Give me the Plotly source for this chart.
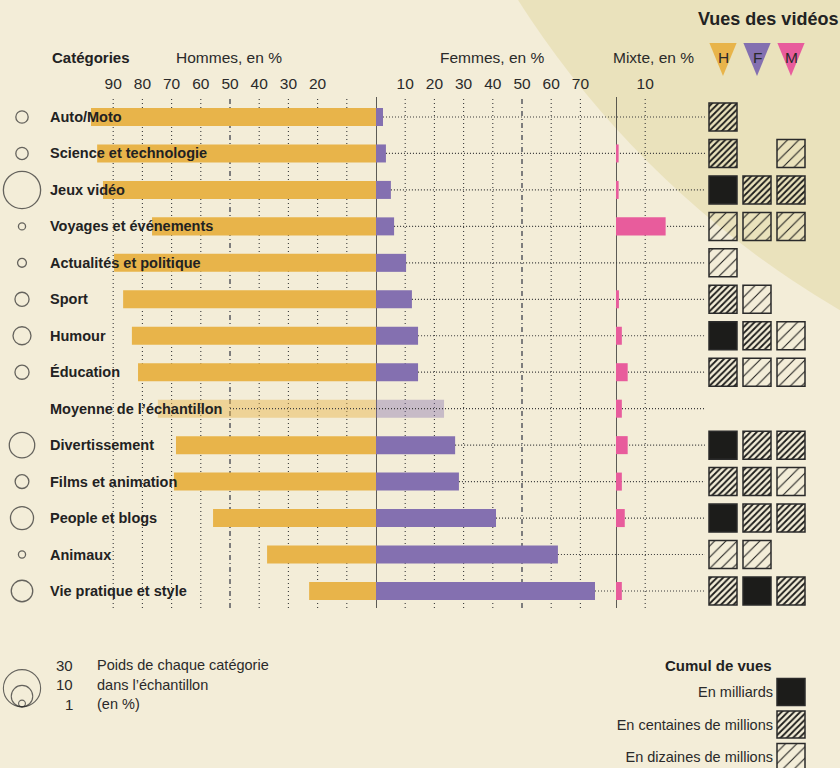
import plotly.graph_objects as go

# ---------------- data ----------------
categories = ["Auto/Moto", "Science et technologie", "Jeux vidéo", "Voyages et événements",
              "Actualités et politique", "Sport", "Humour", "Éducation",
              "Moyenne de l’échantillon", "Divertissement", "Films et animation",
              "People et blogs", "Animaux", "Vie pratique et style"]
hommes = [97.6, 95.5, 93.5, 76.7, 89.7, 86.6, 83.6, 81.5, 74.7, 68.5, 69.2, 55.8, 37.3, 22.9]
femmes = [2.4, 3.4, 5.1, 6.2, 10.3, 12.3, 14.4, 14.4, 23.3, 27.1, 28.4, 41.1, 62.3, 75.0]
mixte = [0, 0.9, 0.9, 17.0, 0, 1.0, 2.0, 4.0, 2.0, 4.0, 2.0, 3.0, 0, 2.0]
poids = [3.3, 3.3, 30, 1.1, 1.7, 4.3, 7.0, 4.3, None, 14.0, 4.1, 11.5, 1.1, 10.0]
# B = milliards, C = centaines de millions, D = dizaines de millions
vues_h = ["C", "C", "B", "D", "D", "C", "B", "C", None, "B", "C", "B", "D", "C"]
vues_f = [None, None, "C", "D", None, "D", "C", "D", None, "C", "C", "C", "D", "B"]
vues_m = [None, "D", "C", "D", None, None, "D", "D", None, "C", "D", "C", None, "C"]
moyenne = "Moyenne de l’échantillon"

ticks_hommes = [90, 80, 70, 60, 50, 40, 30, 20, 10]
labels_hommes = [90, 80, 70, 60, 50, 40, 30, 20]
ticks_femmes = [10, 20, 30, 40, 50, 60, 70]
ticks_mixte = [10]
poids_legende = [30, 10, 1]
cumul_codes = ["B", "C", "D"]
cumul_labels = ["En milliards", "En centaines de millions", "En dizaines de millions"]
colonnes = ["H", "F", "M"]

# ---------------- style ----------------
W, H = 840, 768
K = 2.92                      # px per percent
BG = "#F3EDD8"
BEIGE = "#EAE2BC"
GOLD = "#E8B44A"
PURPLE = "#8470B0"
PINK = "#E85C9C"
INK = "#222222"
FONT = "Liberation Sans, Arial, sans-serif"
X0 = 376        # zero of hommes/femmes
XM = 616        # zero of mixte
XEND = 705      # end of leader lines
ROW0, ROWSTEP = 117, 36.46
YTOP, YBOT = 97, 608

def px(p):
    return p / W

def py(p):
    return 1 - p / H

fig = go.Figure()

# hommes bars
col_h = ["rgba(232,180,74,0.45)" if c == moyenne else GOLD for c in categories]
fig.add_trace(go.Bar(x=hommes, y=categories, orientation="h", xaxis="x", yaxis="y",
                     width=0.494, marker=dict(color=col_h, line_width=0), hoverinfo="skip"))
# leader line of average row on the hommes side
fig.add_trace(go.Scatter(x=[50, 0], y=[moyenne, moyenne], xaxis="x", yaxis="y", mode="lines",
                         line=dict(color="#444", width=1.2, dash="1px,2px"), hoverinfo="skip"))
# femmes bars
col_f = ["rgba(132,112,176,0.4)" if c == moyenne else PURPLE for c in categories]
fig.add_trace(go.Bar(x=femmes, y=categories, orientation="h", xaxis="x2", yaxis="y",
                     width=0.494, marker=dict(color=col_f, line_width=0), hoverinfo="skip"))
# leader lines
xmax2 = (XEND - X0) / K
lx, ly = [], []
for c, f in zip(categories, femmes):
    start = 0 if c == moyenne else f
    lx += [start, xmax2, None]
    ly += [c, c, None]
fig.add_trace(go.Scatter(x=lx, y=ly, xaxis="x2", yaxis="y", mode="lines",
                         line=dict(color="#3a3a3a", width=1.2, dash="1px,2px"), hoverinfo="skip"))
# mixte bars
fig.add_trace(go.Bar(x=mixte, y=categories, orientation="h", xaxis="x3", yaxis="y",
                     width=0.494, marker=dict(color=PINK, line_width=0), hoverinfo="skip"))

# weight circles
SIZEREF = 1 / 23.12
cx = [c for c, p in zip(categories, poids) if p is not None]
cs = [p for p in poids if p is not None]
fig.add_trace(go.Scatter(x=[0.5] * len(cx), y=cx, xaxis="x4", yaxis="y", mode="markers",
                         marker=dict(size=cs, sizemode="area", sizeref=SIZEREF,
                                     color="rgba(0,0,0,0)", line=dict(color="#2a2a2a", width=1.3)),
                         hoverinfo="skip", cliponaxis=False))

# view squares
SQ = 0.8235
pat_shape = {"B": "", "C": "/", "D": "/"}
pat_size = {"B": 8, "C": 4.4, "D": 8}
pat_sol = {"B": 0.3, "C": 0.42, "D": 0.13}
for j, vues in enumerate([vues_h, vues_f, vues_m]):
    ys = [c for c, v in zip(categories, vues) if v]
    codes = [v for v in vues if v]
    fig.add_trace(go.Bar(x=[SQ] * len(ys), base=[j - SQ / 2] * len(ys), y=ys, orientation="h",
                         xaxis="x5", yaxis="y", width=0.768,
                         marker=dict(color="#1c1c1a",
                                     line=dict(color="#2a2a2a", width=1.5),
                                     pattern=dict(shape=[pat_shape[c] for c in codes],
                                                  size=[pat_size[c] for c in codes],
                                                  solidity=[pat_sol[c] for c in codes],
                                                  fillmode="replace")),
                         hoverinfo="skip"))

# legend: weight circles (nested, bottom aligned)
BOTTOM = 707.5
lr = [(v / 2 / SIZEREF) ** 0.5 for v in poids_legende]
fig.add_trace(go.Scatter(x=[0.5] * 3, y=[BOTTOM - r - 0.6 for r in lr], xaxis="x6", yaxis="y6",
                         mode="markers",
                         marker=dict(size=poids_legende, sizemode="area", sizeref=SIZEREF,
                                     color="rgba(0,0,0,0)", line=dict(color="#2a2a2a", width=1.1)),
                         hoverinfo="skip", cliponaxis=False))
# legend: cumul squares
fig.add_trace(go.Bar(x=[SQ] * 3, base=[2 - SQ / 2] * 3, y=cumul_labels, orientation="h",
                     xaxis="x7", yaxis="y7", width=0.83,
                     marker=dict(color="#1c1c1a", line=dict(color="#2a2a2a", width=1.5),
                                 pattern=dict(shape=[pat_shape[c] for c in cumul_codes],
                                              size=[pat_size[c] for c in cumul_codes],
                                              solidity=[pat_sol[c] for c in cumul_codes],
                                              fillmode="replace")),
                     hoverinfo="skip"))

# ---------------- shapes ----------------
shapes = []
# big beige disc in top right
CXC, CYC, R = 1319, -509, 949
shapes.append(dict(type="circle", xref="paper", yref="paper", layer="below",
                   x0=px(CXC - R), x1=px(CXC + R), y0=py(CYC + R), y1=py(CYC - R),
                   fillcolor=BEIGE, line_width=0))

def vline(xref, v, special=False):
    if special:
        ln = dict(color="#7d7d7d", width=2, dash="5px,3px,1px,3px")
    else:
        ln = dict(color="#3a3a3a", width=1.1, dash="1px,3px")
    return dict(type="line", xref=xref, yref="y domain", x0=v, x1=v, y0=0, y1=1,
                layer="below", line=ln)

for v in ticks_hommes:
    shapes.append(vline("x", v, v == 50))
for v in ticks_femmes:
    shapes.append(vline("x2", v, v == 50))
for v in ticks_mixte:
    shapes.append(vline("x3", v))
for xr in ["x2", "x3"]:
    shapes.append(dict(type="line", xref=xr, yref="y domain", x0=0, x1=0, y0=0, y1=1,
                       layer="below", line=dict(color="#2a2a2a", width=1.5)))
# triangles H F M
tri_cols = [GOLD, PURPLE, PINK]
for j, c in enumerate(tri_cols):
    shapes.append(dict(type="path", xref="x5", yref="paper",
                       path=f"M {j-0.4},{py(43)} L {j+0.4},{py(43)} L {j},{py(76)} Z",
                       fillcolor=c, line_width=0))

# ---------------- annotations ----------------
ann = []
for c in categories:
    ann.append(dict(xref="paper", yref="y", x=px(48), y=c, text=f"<b>{c}</b>", showarrow=False,
                    xanchor="left", yanchor="middle", font=dict(size=14.5, color=INK)))
hdr = dict(showarrow=False, yanchor="middle", xref="paper", yref="paper", y=py(57))
ann.append(dict(hdr, x=px(50), text="<b>Catégories</b>", xanchor="left", font=dict(size=15, color=INK)))
ann.append(dict(hdr, x=px(174), text="Hommes, en %", xanchor="left", font=dict(size=15.5, color="#2a2a2a")))
ann.append(dict(hdr, x=px(438), text="Femmes, en %", xanchor="left", font=dict(size=15.5, color="#2a2a2a")))
ann.append(dict(hdr, x=px(696), text="Mixte, en %", xanchor="right", font=dict(size=15.5, color="#2a2a2a")))
ann.append(dict(showarrow=False, xref="paper", yref="paper", x=px(840), y=py(19), xanchor="right",
                yanchor="middle", text="<b>Vues des vidéos</b>", font=dict(size=18, color=INK)))
for j, lab in enumerate(colonnes):
    ann.append(dict(showarrow=False, xref="x5", yref="paper", x=j, y=py(57), text=lab,
                    xanchor="center", yanchor="middle", font=dict(size=15.5, color="#2a2a2a")))
# weight legend
for i, v in enumerate(poids_legende):
    ann.append(dict(showarrow=False, xref="paper", yref="paper", x=px(75), y=py(665 + 19.5 * i),
                    xanchor="right", yanchor="middle", text=str(v), font=dict(size=15, color="#2a2a2a")))
for i, t in enumerate(["Poids de chaque catégorie", "dans l’échantillon", "(en %)"]):
    ann.append(dict(showarrow=False, xref="paper", yref="paper", x=px(95), y=py(665 + 19.5 * i),
                    xanchor="left", yanchor="middle", text=t, font=dict(size=14.5, color="#2a2a2a")))
ann.append(dict(showarrow=False, xref="paper", yref="paper", x=px(774), y=py(665), xanchor="right",
                yanchor="middle", text="<b>Cumul de vues</b>", font=dict(size=15, color=INK)))

# ---------------- layout ----------------
hidden = dict(showgrid=False, zeroline=False, showticklabels=False, showline=False, ticks="",
              fixedrange=True)
tickax = dict(side="top", tickmode="array", showgrid=False, zeroline=False, showline=False,
              ticks="", tickfont=dict(size=15.5, color="#2a2a2a"), fixedrange=True, anchor="y",
              ticklabelstandoff=4)

nrow = len(categories) - 1
fig.update_layout(
    width=W, height=H, margin=dict(l=0, r=0, t=0, b=0),
    paper_bgcolor=BG, plot_bgcolor="rgba(0,0,0,0)",
    font=dict(family=FONT, color=INK),
    showlegend=False, barmode="overlay",
    shapes=shapes, annotations=ann,
    xaxis=dict(tickax, domain=[0, px(X0)], range=[X0 / K, 0],
               tickvals=labels_hommes, ticktext=[str(v) for v in labels_hommes]),
    xaxis2=dict(tickax, domain=[px(X0), px(XEND)], range=[0, (XEND - X0) / K],
                tickvals=ticks_femmes, ticktext=[str(v) for v in ticks_femmes]),
    xaxis3=dict(tickax, domain=[px(XM), px(XEND)], range=[0, (XEND - XM) / K],
                tickvals=ticks_mixte, ticktext=[str(v) for v in ticks_mixte]),
    xaxis4=dict(hidden, domain=[0, px(44)], range=[0, 1], anchor="y"),
    xaxis5=dict(hidden, domain=[px(706), px(808)], range=[-0.5, 2.5], anchor="y"),
    xaxis6=dict(hidden, domain=[0, px(44)], range=[0, 1], anchor="y6"),
    xaxis7=dict(hidden, domain=[px(774), px(808)], range=[1.5, 2.5], anchor="y7"),
    yaxis=dict(hidden, type="category", categoryorder="array", categoryarray=categories,
               domain=[py(YBOT), py(YTOP)],
               range=[nrow + (YBOT - (ROW0 + nrow * ROWSTEP)) / ROWSTEP, -(ROW0 - YTOP) / ROWSTEP],
               anchor="x"),
    yaxis6=dict(hidden, domain=[py(715), py(655)], range=[715, 655], anchor="x6"),
    yaxis7=dict(type="category", categoryorder="array", categoryarray=cumul_labels,
                domain=[0, py(676)], range=[2 + (768 - 757) / 32.5, -(692 - 676) / 32.5],
                anchor="x7", showgrid=False, zeroline=False, showline=False, ticks="",
                tickfont=dict(size=14.5, color="#2a2a2a"), fixedrange=True),
)

fig.write_html("out.html", config={"displayModeBar": False},
               post_script="document.body.style.margin='0';document.body.style.overflow='hidden';")
